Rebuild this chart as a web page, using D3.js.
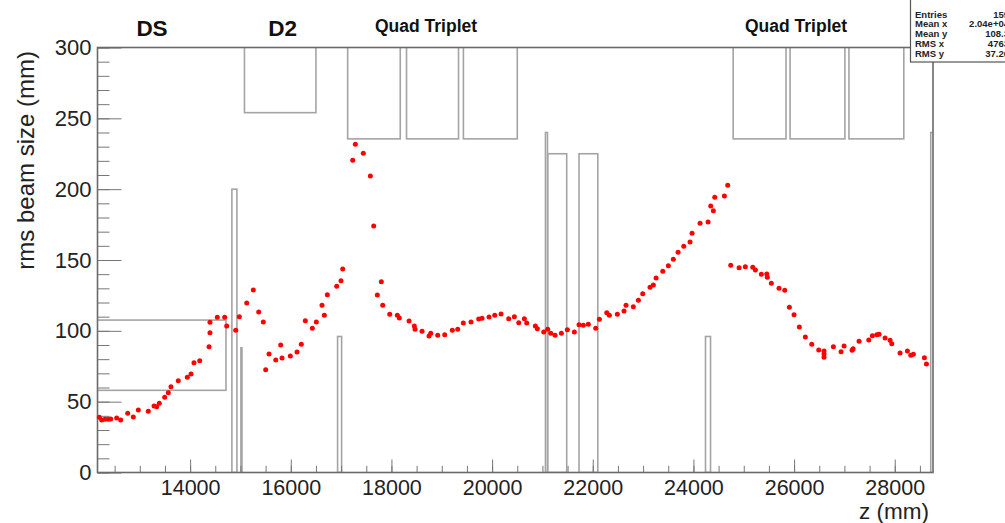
<!DOCTYPE html>
<html>
<head>
<meta charset="utf-8">
<script src="https://cdn.jsdelivr.net/npm/d3@7"></script>
<style>
    body { margin: 0; background: #fff; overflow: hidden; }
    #chart { width: 1005px; height: 523px; }
    text { font-family: "Liberation Sans", Arial, Helvetica, sans-serif; }
</style>
</head>
<body>
<div id="chart"></div>
<script>
// Beam size measurements along the line (z in mm, rms size in mm)
const zValues = [
    12196, 12243, 12309, 12375, 12422, 12541, 12621, 12760, 12871, 12971,
    13169, 13283, 13336, 13388, 13495, 13567, 13620, 13765, 13944, 14018,
    14077, 14191, 14376, 14395, 14395, 14540, 14687, 14727, 14906, 14978,
    15125, 15256, 15363, 15454, 15502, 15568, 15701, 15800, 15826, 15991,
    16124, 16209, 16289, 16428, 16508, 16621, 16667, 16726, 16913, 16998,
    17032, 17231, 17283, 17441, 17581, 17648, 17720, 17799, 17827, 17966,
    18117, 18157, 18350, 18455, 18469, 18608, 18747, 18781, 18920, 19059,
    19210, 19317, 19428, 19581, 19734, 19800, 19939, 20052, 20178, 20330,
    20442, 20529, 20641, 20688, 20859, 20899, 21026, 21105, 21165, 21251,
    21376, 21495, 21634, 21727, 21813, 21912, 22059, 22131, 22278, 22330,
    22488, 22621, 22661, 22806, 22906, 22993, 23138, 23204, 23258, 23391,
    23502, 23601, 23695, 23808, 23933, 23973, 24132, 24291, 24344, 24396,
    24424, 24615, 24682, 24742, 24907, 25032, 25179, 25231, 25350, 25457,
    25469, 25548, 25701, 25814, 25906, 25999, 26104, 26224, 26351, 26490,
    26595, 26595, 26595, 26781, 26933, 26993, 27152, 27172, 27291, 27484,
    27555, 27643, 27689, 27808, 27907, 27941, 28106, 28251, 28318, 28370,
    28589, 28629
];
const sizeValues = [
    39.0, 37.1, 37.6, 37.6, 37.8, 38.5, 37.1, 41.8, 39.2, 44.1,
    43.2, 46.9, 46.4, 48.8, 53.1, 56.3, 60.5, 64.7, 67.2, 69.5,
    77.5, 78.9, 88.8, 98.7, 106.0, 109.6, 109.6, 103.4, 100.4, 110.0,
    119.6, 128.8, 113.3, 106.2, 72.6, 83.6, 79.4, 90.0, 80.8, 82.2,
    85.1, 90.5, 107.2, 101.8, 106.2, 118.0, 111.0, 125.5, 131.4, 135.4,
    143.6, 220.4, 231.7, 225.3, 209.3, 174.0, 125.3, 134.7, 118.0, 111.7,
    111.0, 109.1, 106.9, 103.4, 101.1, 99.7, 96.4, 98.3, 96.9, 97.3,
    100.4, 101.1, 105.5, 106.2, 108.4, 108.8, 109.8, 111.0, 111.9, 108.6,
    110.0, 105.7, 108.6, 105.5, 103.4, 101.5, 99.2, 101.1, 98.3, 96.9,
    98.3, 100.8, 99.2, 104.3, 103.9, 104.6, 101.8, 108.1, 112.8, 111.0,
    111.7, 114.0, 118.0, 117.0, 121.6, 126.2, 130.7, 132.4, 137.3, 142.0,
    146.0, 150.5, 155.4, 159.7, 162.7, 168.9, 175.9, 176.8, 188.1, 184.8,
    194.3, 195.2, 202.7, 146.3, 144.6, 145.3, 144.8, 142.9, 139.9, 140.1,
    137.8, 133.6, 130.0, 128.6, 116.6, 111.4, 102.7, 95.6, 90.5, 86.5,
    85.8, 83.6, 81.3, 88.8, 85.3, 89.3, 86.3, 87.4, 92.6, 93.5,
    96.6, 97.3, 97.6, 94.9, 93.3, 90.9, 84.4, 85.8, 82.7, 83.4,
    81.0, 76.6
];

// Beamline elements drawn as outline boxes (z range and aperture range)
const elementStart = [11000, 14830, 15010, 15080, 16930, 17130, 18300, 19430, 21060, 21105, 21727, 24240, 24790, 25920, 27090, 28715];
const elementEnd   = [14713, 14930, 15030, 16500, 17010, 18175, 19333, 20500, 21100, 21482, 22100, 24340, 25840, 27010, 28180, 28800];
const elementLow   = [58, 0, 0, 254, 0, 235.5, 235.5, 235.5, 0, 0, 0, 0, 235.5, 235.5, 235.5, 0];
const elementHigh  = [107.6, 200, 88, 320, 96, 320, 320, 320, 240, 225, 225, 96, 320, 320, 320, 240];

// Element group labels
const groupLabels = ["DS", "D2", "Quad Triplet", "Quad Triplet"];
const groupLabelZ = [13243, 15838, 18687, 26039];

// Axis ticks
const xMajorTicks = [14000, 16000, 18000, 20000, 22000, 24000, 26000, 28000];
const yMajorTicks = [0, 50, 100, 150, 200, 250, 300];

// Statistics box
const statNames = ["Entries", "Mean x", "Mean y", "RMS x", "RMS y"];
const statValues = ["159", "2.04e+04", "108.3", "4763", "37.26"];

function createBeamChart(containerId) {
    const fullWidth = 1005;
    const fullHeight = 523;
    const margin = { top: 47.5, right: 72, bottom: 50.5, left: 97.5 };
    const width = fullWidth - margin.left - margin.right;
    const height = fullHeight - margin.top - margin.bottom;

    const root = d3.select(`#${containerId}`)
        .append("svg")
        .attr("width", fullWidth)
        .attr("height", fullHeight);

    const svg = root.append("g")
        .attr("transform", `translate(${margin.left},${margin.top})`);

    const x = d3.scaleLinear().domain([12160, 28760]).range([0, width]);
    const y = d3.scaleLinear().domain([0, 300]).range([height, 0]);

    svg.append("clipPath")
        .attr("id", "plot-clip")
        .append("rect")
        .attr("width", width)
        .attr("height", height);

    // Beamline element outlines
    const elements = elementStart.map((s, i) => ({
        start: s, end: elementEnd[i], low: elementLow[i], high: elementHigh[i]
    }));

    svg.append("g")
        .attr("clip-path", "url(#plot-clip)")
        .selectAll("rect")
        .data(elements)
        .enter()
        .append("rect")
        .attr("x", d => x(d.start))
        .attr("y", d => y(d.high))
        .attr("width", d => x(d.end) - x(d.start))
        .attr("height", d => y(d.low) - y(d.high))
        .attr("fill", "none")
        .attr("stroke", "#a4a4a4")
        .attr("stroke-width", 1.6);

    // Minor y ticks
    svg.append("g")
        .call(d3.axisLeft(y)
            .tickValues(d3.range(0, 301, 10))
            .tickSizeInner(-12)
            .tickSizeOuter(0)
            .tickFormat(""))
        .call(g => g.select(".domain").remove())
        .selectAll("line")
        .attr("stroke", "#777");

    // Major y ticks with labels
    svg.append("g")
        .call(d3.axisLeft(y)
            .tickValues(yMajorTicks)
            .tickSizeInner(-24)
            .tickSizeOuter(0)
            .tickPadding(6))
        .call(g => g.select(".domain").remove())
        .call(g => g.selectAll("line").attr("stroke", "#777"))
        .selectAll("text")
        .style("font-size", "22px")
        .attr("fill", "#222");

    // Minor x ticks
    svg.append("g")
        .attr("transform", `translate(0,${height})`)
        .call(d3.axisBottom(x)
            .tickValues(d3.range(12500, 28760, 500))
            .tickSizeInner(-6.7)
            .tickSizeOuter(0)
            .tickFormat(""))
        .call(g => g.select(".domain").remove())
        .selectAll("line")
        .attr("stroke", "#777");

    // Major x ticks with labels
    svg.append("g")
        .attr("transform", `translate(0,${height})`)
        .call(d3.axisBottom(x)
            .tickValues(xMajorTicks)
            .tickSizeInner(-13)
            .tickSizeOuter(0)
            .tickPadding(7.5)
            .tickFormat(d3.format("d")))
        .call(g => g.select(".domain").remove())
        .call(g => g.selectAll("line").attr("stroke", "#777"))
        .selectAll("text")
        .style("font-size", "21.5px")
        .attr("fill", "#222");

    // Frame
    svg.append("rect")
        .attr("width", width)
        .attr("height", height)
        .attr("fill", "none")
        .attr("stroke", "#6a6a6a")
        .attr("stroke-width", 1.6);

    // Data points
    const points = zValues.map((z, i) => ({ z, v: sizeValues[i] }));
    svg.append("g")
        .selectAll("circle")
        .data(points)
        .enter()
        .append("circle")
        .attr("cx", d => x(d.z))
        .attr("cy", d => y(d.v))
        .attr("r", 2.5)
        .attr("fill", "#ff0000");

    // Axis titles
    svg.append("text")
        .attr("transform", "rotate(-90)")
        .attr("x", -3.5)
        .attr("y", 34 - margin.left)
        .attr("text-anchor", "end")
        .style("font-size", "24px")
        .attr("fill", "#222")
        .text("rms beam size (mm)");

    svg.append("text")
        .attr("x", width - 4)
        .attr("y", height + 46)
        .attr("text-anchor", "end")
        .style("font-size", "22.5px")
        .attr("fill", "#222")
        .text("z (mm)");

    // Element group labels above the frame
    svg.selectAll(".group-label")
        .data(groupLabels)
        .enter()
        .append("text")
        .attr("class", "group-label")
        .attr("x", (d, i) => x(groupLabelZ[i]))
        .attr("y", d => d.length > 2 ? -15.5 : -11.5)
        .attr("text-anchor", "middle")
        .style("font-size", d => d.length > 2 ? "17.5px" : "22.5px")
        .style("font-weight", "bold")
        .attr("fill", "#111")
        .text(d => d);

    // Statistics box in the top right corner
    const stats = root.append("g");
    stats.append("rect")
        .attr("x", 910.5)
        .attr("y", -5)
        .attr("width", 110)
        .attr("height", 67)
        .attr("fill", "#fff")
        .attr("stroke", "#555")
        .attr("stroke-width", 1.2);

    stats.selectAll(".stat-name")
        .data(statNames)
        .enter()
        .append("text")
        .attr("x", 915)
        .attr("y", (d, i) => 17.5 + i * 9.8)
        .style("font-size", "9.5px")
        .style("font-weight", "bold")
        .attr("fill", "#222")
        .text(d => d);

    stats.selectAll(".stat-value")
        .data(statValues)
        .enter()
        .append("text")
        .attr("x", 1009)
        .attr("y", (d, i) => 17.5 + i * 9.8)
        .attr("text-anchor", "end")
        .style("font-size", "9.5px")
        .style("font-weight", "bold")
        .attr("fill", "#222")
        .text(d => d);
}

createBeamChart("chart");
</script>
</body>
</html>
